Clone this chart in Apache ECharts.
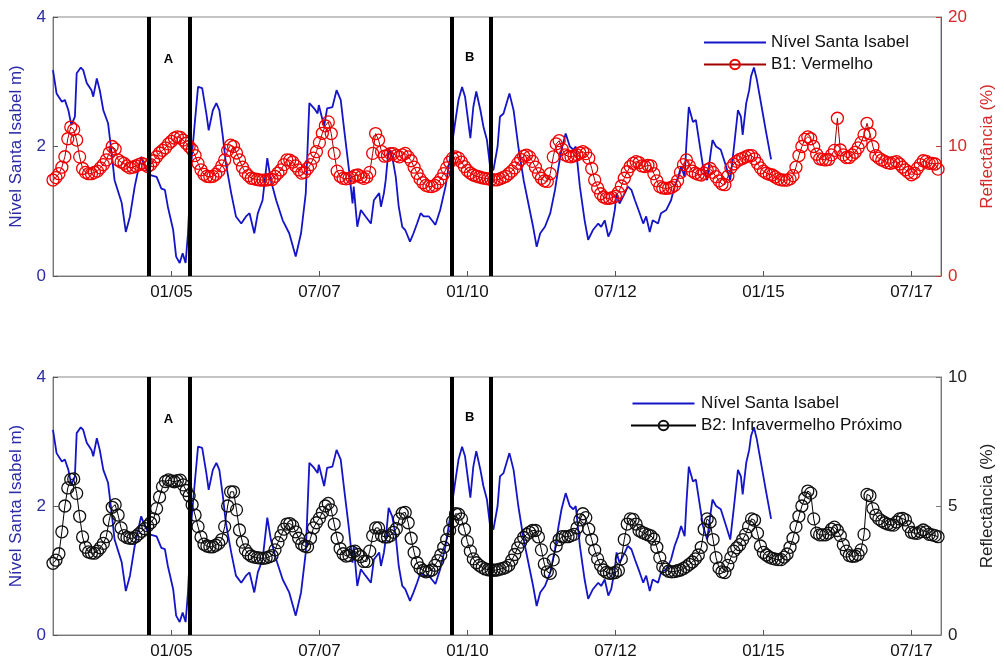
<!DOCTYPE html>
<html><head><meta charset="utf-8">
<script src="https://cdn.jsdelivr.net/npm/echarts@6/dist/echarts.min.js"></script>
<style>html,body{margin:0;padding:0;background:#fff}#c{width:1004px;height:661px}</style>
</head><body><div id="c"></div>
<script>
const tickYears = [2005, 2007.5, 2010, 2012.5, 2015, 2017.5];
const tickLabels = ['01/05', '07/07', '01/10', '07/12', '01/15', '07/17'];
const levelName = 'Nível Santa Isabel';
const b1Name = 'B1: Vermelho';
const b2Name = 'B2: Infravermelho Próximo';
const periodBounds = [2004.62, 2005.31, 2009.74, 2010.39];
const periodNames = ['A', 'B'];
const periodYears = [2004.95, 2010.04];
const periodLevels = [3.35, 3.38];

// Water level (m): irregular sample dates (decimal years)
const levelYears = [2003.00,2003.06,2003.15,2003.20,2003.26,2003.31,2003.37,2003.40,2003.47,2003.51,2003.57,2003.65,2003.68,2003.74,2003.79,2003.85,2003.93,2003.99,2004.04,2004.16,2004.23,2004.30,2004.38,2004.44,2004.49,2004.55,2004.63,2004.75,2004.83,2004.89,2004.94,2005.03,2005.08,2005.14,2005.19,2005.24,2005.28,2005.34,2005.39,2005.45,2005.52,2005.59,2005.63,2005.70,2005.76,2005.81,2005.87,2005.92,2006.01,2006.09,2006.18,2006.26,2006.32,2006.40,2006.46,2006.54,2006.62,2006.68,2006.77,2006.88,2006.99,2007.10,2007.19,2007.27,2007.33,2007.41,2007.47,2007.49,2007.58,2007.63,2007.72,2007.79,2007.86,2007.92,2008.00,2008.06,2008.08,2008.14,2008.20,2008.28,2008.37,2008.42,2008.51,2008.54,2008.59,2008.62,2008.67,2008.73,2008.79,2008.84,2008.90,2008.95,2009.03,2009.09,2009.15,2009.21,2009.26,2009.35,2009.40,2009.46,2009.54,2009.63,2009.71,2009.80,2009.85,2009.91,2009.96,2010.05,2010.10,2010.15,2010.22,2010.27,2010.33,2010.39,2010.44,2010.51,2010.55,2010.61,2010.64,2010.71,2010.78,2010.86,2010.95,2011.03,2011.11,2011.17,2011.23,2011.31,2011.40,2011.48,2011.54,2011.59,2011.66,2011.73,2011.79,2011.83,2011.90,2011.98,2012.04,2012.12,2012.21,2012.26,2012.32,2012.38,2012.43,2012.49,2012.52,2012.57,2012.66,2012.71,2012.77,2012.83,2012.91,2012.97,2013.02,2013.08,2013.13,2013.22,2013.27,2013.36,2013.44,2013.50,2013.56,2013.61,2013.67,2013.70,2013.74,2013.81,2013.86,2013.92,2013.98,2014.05,2014.11,2014.14,2014.20,2014.28,2014.37,2014.44,2014.51,2014.57,2014.62,2014.65,2014.71,2014.76,2014.79,2014.84,2014.89,2014.93,2014.99,2015.04,2015.13];
const levelValues = [3.18,2.82,2.69,2.72,2.56,2.33,2.46,3.13,3.22,3.18,2.98,2.87,2.77,3.05,2.87,2.56,2.36,1.90,1.48,1.13,0.68,0.92,1.38,1.64,1.84,1.69,1.56,1.53,1.35,1.33,1.07,0.71,0.30,0.20,0.35,0.20,0.66,1.79,2.31,2.92,2.90,2.51,2.25,2.56,2.67,2.56,2.15,1.74,1.28,0.92,0.81,0.92,0.97,0.66,0.97,1.17,1.82,1.48,1.17,0.86,0.66,0.30,0.66,1.28,2.67,2.59,2.51,2.64,2.31,2.59,2.61,2.87,2.72,2.25,1.64,1.12,1.38,0.76,1.02,0.92,0.81,1.17,1.28,1.07,1.28,1.48,1.97,1.84,1.53,1.07,0.76,0.71,0.53,0.66,0.81,0.97,0.92,0.92,0.86,0.79,1.02,1.38,1.84,2.41,2.72,2.92,2.77,2.13,2.61,2.85,2.56,2.31,2.10,1.64,1.64,2.00,2.46,2.51,2.49,2.82,2.56,2.00,1.48,1.12,0.76,0.45,0.66,0.76,0.97,1.33,1.69,1.95,2.20,2.00,1.95,2.00,1.38,0.86,0.56,0.71,0.81,0.76,0.86,0.61,0.71,1.02,1.28,1.12,1.28,1.38,1.33,1.17,0.97,0.81,0.92,0.68,0.86,0.81,0.97,1.02,1.17,1.38,1.53,1.69,1.53,2.05,2.61,2.38,2.41,2.05,1.69,1.48,1.90,2.10,2.00,1.95,1.69,1.48,2.05,2.56,2.46,2.18,2.67,2.87,3.08,3.22,3.03,2.82,2.51,2.25,1.80];

// Reflectance composites: first date and spacing (decimal years)
const reflStart = 2003.0;
const reflStep = 0.05;
// B1 red reflectance (%), one value per composite date
const b1Values = [
7.41,7.6,7.9,8.4,9.21,10.6,11.5,11.3,10.5,9.2,8.3,8.0,7.9,7.9,8.0,8.1,8.35,8.6,8.96,9.5,
10.0,9.8,8.96,8.8,8.7,8.5,8.35,8.4,8.5,8.6,8.7,8.6,8.45,8.6,8.9,9.21,9.5,9.7,9.9,10.2,
10.4,10.65,10.75,10.7,10.5,10.25,10.0,9.75,9.3,8.7,8.2,7.85,7.7,7.67,7.7,7.85,8.1,8.5,8.96,9.7,
10.1,10.0,9.5,8.96,8.4,8.0,7.75,7.55,7.5,7.45,7.41,7.41,7.4,7.45,7.45,7.7,7.95,8.19,8.6,8.96,
8.95,8.8,8.5,8.2,7.95,8.0,8.3,8.6,9.1,9.6,10.3,11.02,11.6,11.9,11.0,9.47,8.1,7.7,7.54,7.5,
7.54,7.6,7.75,7.8,7.65,7.54,7.65,8.0,9.47,11.0,10.5,9.6,9.25,9.3,9.45,9.45,9.3,9.2,9.35,9.47,
9.2,8.9,8.4,7.93,7.5,7.2,7.0,6.92,6.9,7.0,7.2,7.5,7.9,8.35,8.8,9.1,9.2,9.1,8.8,8.45,
8.15,7.95,7.8,7.72,7.65,7.58,7.54,7.5,7.45,7.42,7.42,7.5,7.6,7.7,7.9,8.1,8.35,8.7,9.0,9.25,
9.34,9.2,8.85,8.4,7.9,7.55,7.35,7.3,7.9,9.2,10.2,10.45,9.8,9.35,9.25,9.2,9.28,9.36,9.5,9.6,
9.45,9.1,8.3,7.41,6.8,6.35,6.1,6.0,6.0,6.05,6.15,6.45,6.95,7.55,8.05,8.45,8.7,8.83,8.75,8.5,
8.45,8.55,8.5,7.9,7.35,6.9,6.8,6.77,6.78,6.85,7.0,7.35,8.0,8.6,8.96,8.5,8.1,7.95,7.85,7.8,
7.95,8.2,8.3,8.0,7.67,7.35,7.1,7.05,7.7,8.35,8.65,8.85,9.0,9.09,9.2,9.3,9.3,9.05,8.7,8.35,
8.1,7.95,7.85,7.8,7.65,7.5,7.42,7.4,7.4,7.5,7.75,8.4,9.3,10.0,10.55,10.75,10.6,10.0,9.4,9.05,
9.0,8.96,9.0,9.35,9.7,12.18,9.73,9.35,9.15,9.15,9.35,9.55,9.9,10.3,10.9,11.79,11.0,10.0,9.3,9.1,
8.96,8.85,8.75,8.7,8.78,8.83,8.65,8.4,8.2,8.0,7.82,7.95,8.3,8.6,8.9,8.85,8.7,8.7,8.65,8.25];
// B2 near-infrared reflectance (%), one value per composite date
const b2Values = [
2.78,2.9,3.15,4.0,5.0,5.7,6.03,6.05,5.49,4.6,3.8,3.4,3.22,3.18,3.17,3.25,3.38,3.55,3.81,4.45,
4.95,5.05,4.65,4.15,3.85,3.78,3.75,3.75,3.82,3.92,4.02,4.12,4.23,4.35,4.5,4.9,5.35,5.75,5.95,6.01,
5.97,5.94,5.98,6.0,5.82,5.6,5.4,5.05,4.65,4.2,3.8,3.52,3.45,3.42,3.42,3.48,3.55,3.7,4.2,5.0,
5.55,5.55,4.85,4.07,3.6,3.3,3.15,3.06,3.02,3.0,2.98,2.97,2.99,3.03,3.08,3.3,3.58,3.85,4.1,4.3,
4.32,4.23,4.0,3.75,3.53,3.45,3.42,3.75,4.15,4.35,4.52,4.75,5.0,5.1,4.85,4.3,3.75,3.35,3.15,3.06,
3.08,3.22,3.25,3.12,3.04,2.85,2.85,3.25,3.85,4.15,4.15,3.85,3.8,3.8,3.85,3.98,4.12,4.5,4.72,4.75,
4.35,3.75,3.2,2.8,2.6,2.5,2.45,2.47,2.52,2.7,2.88,3.1,3.4,3.7,4.05,4.4,4.7,4.68,4.5,4.1,
3.62,3.25,2.95,2.8,2.7,2.62,2.56,2.53,2.52,2.51,2.52,2.55,2.58,2.62,2.7,2.9,3.12,3.38,3.6,3.78,
3.9,3.98,4.05,4.05,3.8,3.3,2.75,2.45,2.39,2.91,3.45,3.7,3.81,3.81,3.81,3.85,3.9,4.15,4.46,4.7,
4.55,4.1,3.7,3.29,2.95,2.7,2.52,2.43,2.39,2.4,2.42,2.5,2.95,3.7,4.3,4.5,4.48,4.3,4.05,3.98,
3.93,3.88,3.84,3.72,3.4,3.0,2.65,2.55,2.47,2.45,2.46,2.49,2.52,2.58,2.65,2.74,2.83,2.95,3.1,3.4,
4.1,4.5,4.38,3.7,3.0,2.6,2.45,2.42,2.7,3.0,3.25,3.38,3.5,3.7,3.9,4.2,4.5,4.45,3.95,3.45,
3.2,3.1,3.02,2.97,2.94,2.92,2.92,3.02,3.14,3.4,3.75,4.2,4.6,5.0,5.3,5.58,5.5,4.5,3.95,3.88,
3.88,3.88,3.95,4.1,4.18,4.05,3.85,3.5,3.25,3.08,3.05,3.06,3.12,3.3,3.9,5.45,5.4,4.9,4.65,4.5,
4.42,4.35,4.3,4.27,4.26,4.38,4.5,4.52,4.46,4.2,3.98,3.95,3.94,4.0,4.07,4.0,3.9,3.88,3.85,3.81];

const FONT = '"Liberation Sans", Arial, sans-serif';
const BLUE = '#1414c8';
const BLUE_TXT = '#2b2ba6';
const RED_TXT = '#d42a2a';
const LINE_ICON = 'path://M0,0L0.01,0L0,0.01Z M0,5.1L62,5.1L62,6.9L0,6.9Z M0,12L0.01,12L0,11.99Z';

const pairs = (xs, ys) => xs.map((x, i) => [x, ys[i]]);
const reflData = vals => vals.map((v, i) => [+(reflStart + i * reflStep).toFixed(3), v]);
const levelData = pairs(levelYears, levelValues);

function xAxisFor(g) {
  return {
    type: 'value', gridIndex: g, min: 2003, max: 2018,
    axisLine: { show: true, onZero: false, lineStyle: { color: '#777', width: 1 } },
    axisTick: { show: true, inside: true, length: 5, customValues: tickYears, lineStyle: { color: '#555' } },
    axisLabel: {
      customValues: tickYears, fontSize: 17, color: '#111', margin: 8, fontFamily: FONT,
      formatter: v => { const i = tickYears.findIndex(t => Math.abs(t - v) < 1e-6); return i >= 0 ? tickLabels[i] : ''; }
    },
    splitLine: { show: false }
  };
}
function leftAxis(g) {
  return {
    type: 'value', gridIndex: g, position: 'left', min: 0, max: 4, interval: 2,
    axisLine: { show: true, lineStyle: { color: '#777' } },
    axisTick: { show: true, inside: true, length: 5, lineStyle: { color: '#555' } },
    axisLabel: { fontSize: 17, color: BLUE_TXT, margin: 7, fontFamily: FONT },
    splitLine: { show: false },
    name: 'Nível Santa Isabel m)', nameLocation: 'middle', nameGap: 28, nameRotate: 90,
    nameTextStyle: { fontSize: 17, color: BLUE_TXT, fontFamily: FONT }
  };
}
function rightAxis(g, max, interval, lineColor, txtColor) {
  return {
    type: 'value', gridIndex: g, position: 'right', min: 0, max: max, interval: interval,
    axisLine: { show: true, lineStyle: { color: lineColor } },
    axisTick: { show: true, inside: true, length: 5, lineStyle: { color: lineColor } },
    axisLabel: { fontSize: 17, color: txtColor, margin: 7, fontFamily: FONT },
    splitLine: { show: false },
    name: 'Reflectância (%)', nameLocation: 'middle', nameGap: 38, nameRotate: 90,
    nameTextStyle: { fontSize: 17, color: txtColor, fontFamily: FONT }
  };
}
function levelSeries(xi, yi) {
  return {
    name: levelName, type: 'line', xAxisIndex: xi, yAxisIndex: yi, data: levelData,
    symbol: 'none', showSymbol: false, z: 2,
    lineStyle: { color: BLUE, width: 1.8 }, itemStyle: { color: BLUE },
    markPoint: {
      symbol: 'circle', symbolSize: 0, silent: true,
      label: { show: true, position: 'inside', formatter: p => p.name, color: '#000', fontWeight: 'bold', fontSize: 13, fontFamily: FONT },
      data: periodNames.map((n, i) => ({ name: n, coord: [periodYears[i], periodLevels[i]] }))
    }
  };
}
function bandSeries(name, xi, yi, data, edge, line) {
  return {
    name: name, type: 'line', xAxisIndex: xi, yAxisIndex: yi, data: data,
    symbol: 'circle', symbolSize: 12, showAllSymbol: true, z: 3,
    itemStyle: { color: 'rgba(255,255,255,0)', borderColor: edge, borderWidth: 1.3 },
    lineStyle: { color: line, width: 1 },
    markLine: {
      silent: true, symbol: 'none', label: { show: false },
      lineStyle: { color: '#000', width: 4, type: 'solid' },
      data: periodBounds.map(x => ({ xAxis: x }))
    }
  };
}

const chart = echarts.init(document.getElementById('c'), null, { renderer: 'canvas' });
chart.setOption({
  animation: false,
  backgroundColor: '#fff',
  textStyle: { fontFamily: FONT },
  grid: [
    { left: 53, right: 62, top: 17, height: 259, show: true, borderColor: '#888', borderWidth: 1 },
    { left: 53, right: 62, top: 377, height: 258, show: true, borderColor: '#888', borderWidth: 1 }
  ],
  legend: [
    { left: 698, top: 29, orient: 'vertical', itemWidth: 62, itemHeight: 12, itemGap: 5,
      textStyle: { fontSize: 17, color: '#111', fontFamily: FONT },
      data: [{ name: levelName, icon: LINE_ICON }, b1Name] },
    { left: 625, top: 390, orient: 'vertical', itemWidth: 65, itemHeight: 12, itemGap: 5,
      textStyle: { fontSize: 17, color: '#111', fontFamily: FONT },
      data: [{ name: levelName, icon: LINE_ICON }, b2Name] }
  ],
  xAxis: [xAxisFor(0), xAxisFor(1)],
  yAxis: [leftAxis(0), rightAxis(0, 20, 10, '#c03a3a', RED_TXT), leftAxis(1), rightAxis(1, 10, 5, '#777', '#222')],
  series: [
    levelSeries(0, 0),
    bandSeries(b1Name, 0, 1, reflData(b1Values), '#f00000', '#a00000'),
    levelSeries(1, 2),
    bandSeries(b2Name, 1, 3, reflData(b2Values), '#111', '#000')
  ]
});
</script>
</body></html>
